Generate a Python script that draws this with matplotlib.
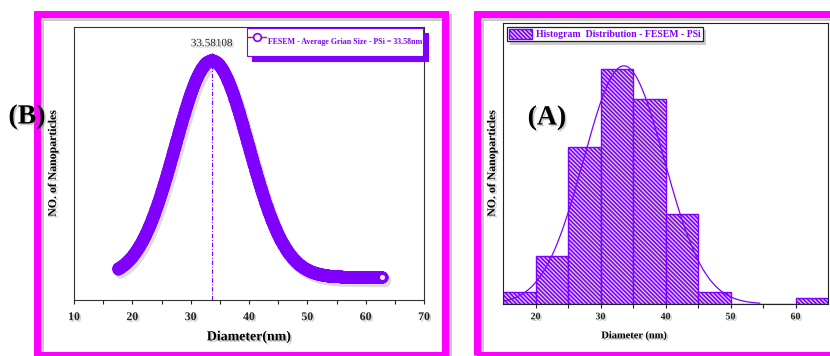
import numpy as np
import matplotlib
matplotlib.use("Agg")
import matplotlib.pyplot as plt
import matplotlib.patheffects as pe
from matplotlib.patches import Rectangle
from matplotlib.lines import Line2D
from matplotlib.transforms import offset_copy

# -----------------------------
# Gauss fit of FESEM grain size (panel B)
# -----------------------------
fit_center = 33.58108
fit_width = 6.3
fit_amp = 35.7
fit_base = 3.8
fit_range = (17.5, 62.8)

# -----------------------------
# Histogram of diameters (panel A)
# -----------------------------
bin_left = [15, 20, 25, 30, 35, 40, 45, 50, 55, 60]
bin_count = [2, 8, 26, 39, 34, 15, 2, 0, 0, 1]
bin_width = 5

# normal curve drawn over the histogram
hist_fit_center = 33.6
hist_fit_width = 6.2
hist_fit_amp = 39.5
hist_fit_range = (15, 54.5)

xticks_b = [10, 20, 30, 40, 50, 60, 70]
xticks_a = [20, 30, 40, 50, 60]

PURPLE = "#7F00FF"
MAGENTA = "#FF00FF"

plt.rcParams["font.family"] = ["Liberation Serif", "DejaVu Serif"]
plt.rcParams["font.weight"] = "bold"
plt.rcParams["hatch.linewidth"] = 1.2

W, H = 830, 356
fig = plt.figure(figsize=(W / 100, H / 100), dpi=100)


def box(x0, y0, x1, y1):
    # pixel box (top-left origin) -> figure fraction rect
    return [x0 / W, 1 - y1 / H, (x1 - x0) / W, (y1 - y0) / H]


txt_shadow = [pe.withSimplePatchShadow(offset=(1.2, -1.2), shadow_rgbFace="0.45", alpha=0.35)]

# -----------------------------
# Outer magenta frames
# -----------------------------
for x0, x1 in [(36.5, 444.5), (476.5, 840)]:
    r = Rectangle((x0 / W, 1 - 355 / H), (x1 - x0) / W, (355 - 13.5) / H,
                  transform=fig.transFigure, fill=False, ec=MAGENTA, lw=5.04,
                  joinstyle="miter", clip_on=False, zorder=1)
    r.set_path_effects([pe.SimpleLineShadow(offset=(2.2, -2.2), shadow_color="0.4", alpha=0.35),
                        pe.Normal()])
    fig.add_artist(r)

# -----------------------------
# Panel B: Gauss fit curve
# -----------------------------
axL = fig.add_axes(box(74, 27, 424, 300))

x = np.linspace(fit_range[0], fit_range[1], 1500)
y = fit_base + fit_amp * np.exp(-(x - fit_center) ** 2 / (2 * fit_width ** 2))

shadow_tr = offset_copy(axL.transData, fig=fig, x=3, y=-4, units="dots")
axL.plot(x, y, color="0.55", lw=9, alpha=0.3, solid_capstyle="round", transform=shadow_tr)
axL.plot(x, y, color="red", lw=1, marker="o", ms=6.1, mew=2.5, mfc="white", mec=PURPLE, zorder=3)

peak = fit_base + fit_amp
axL.plot([fit_center, fit_center], [0, peak + 1.3], color=PURPLE, lw=0.8,
         dashes=(4, 1.5, 1, 1.5), zorder=2)
axL.annotate(f"{fit_center:.5f}", xy=(fit_center, peak), xytext=(0, 12),
             textcoords="offset points", ha="center", va="center",
             fontsize=8, fontweight="normal", color="#222222", path_effects=txt_shadow)

axL.set_xlim(10, 70)
axL.set_ylim(0, 45)
axL.set_xticks(xticks_b)
axL.set_xticks([15, 25, 35, 45, 55, 65], minor=True)
axL.set_yticks([])
axL.tick_params(axis="x", which="both", direction="out", length=3, width=0.8, pad=5,
                labelsize=8.5, colors="#222222")
for s in axL.spines.values():
    s.set_color("#333333")
    s.set_linewidth(0.8)

axL.set_xlabel("Diameter(nm)", fontsize=10, fontweight="bold", va="top")
axL.xaxis.set_label_coords(0.5, -0.11)
axL.set_ylabel("NO. of Nanoparticles", fontsize=8.5, fontweight="bold")
axL.yaxis.set_label_coords(-0.043, 0.5)

proxy = Line2D([], [], color="red", lw=1, marker="o", ms=5.5, mfc="white", mec=PURPLE, mew=1.2)
legL = axL.legend(handles=[proxy], labels=[f"FESEM - Average Grian Size - PSi = {fit_center:.2f}nm"],
                  loc="upper left", bbox_to_anchor=(247 / W, 1 - 28 / H),
                  bbox_transform=fig.transFigure, borderaxespad=0,
                  prop=dict(weight="bold", size=5.7), handlelength=2.2, handleheight=4.6,
                  handletextpad=0.25, borderpad=0.15, fancybox=False, edgecolor=PURPLE,
                  framealpha=1,
                  shadow={"ox": 3.6, "oy": -3.6, "facecolor": PURPLE, "edgecolor": PURPLE, "alpha": 1})
legL.get_frame().set_linewidth(0.8)
for t in legL.get_texts():
    t.set_color(PURPLE)

# -----------------------------
# Panel A: histogram
# -----------------------------
axR = fig.add_axes(box(503, 23, 828, 304))

axR.bar(bin_left, bin_count, width=bin_width, align="edge", facecolor="#DCD4F4",
        edgecolor=PURPLE, hatch="\\" * 8, lw=1, zorder=2,
        label="Histogram  Distribution - FESEM - PSi")

xr = np.linspace(hist_fit_range[0], hist_fit_range[1], 400)
yr = hist_fit_amp * np.exp(-(xr - hist_fit_center) ** 2 / (2 * hist_fit_width ** 2))
axR.plot(xr, yr, color=PURPLE, lw=0.9, zorder=3)

axR.set_xlim(15, 65)
axR.set_ylim(0, 46.6)
axR.set_xticks(xticks_a)
axR.set_xticks([25, 35, 45, 55], minor=True)
axR.set_yticks([])
axR.tick_params(axis="x", which="both", direction="out", length=3, width=0.8, pad=3,
                labelsize=7.2, colors="#222222")
for s in axR.spines.values():
    s.set_color("#222222")
    s.set_linewidth(0.8)

axR.set_xlabel("Diameter (nm)", fontsize=7.5, fontweight="bold", va="top")
axR.xaxis.set_label_coords(0.403, -0.096)
axR.set_ylabel("NO. of Nanoparticles", fontsize=8.5, fontweight="bold")
axR.yaxis.set_label_coords(-0.015, 0.5)

legR = axR.legend(loc="upper left", bbox_to_anchor=(507 / W, 1 - 27 / H),
                  bbox_transform=fig.transFigure, borderaxespad=0,
                  prop=dict(weight="bold", size=7), handlelength=2.4, handleheight=1.2,
                  handletextpad=0.4, borderpad=0.2, fancybox=False, edgecolor="#222222",
                  framealpha=1,
                  shadow={"ox": 2.5, "oy": -2.5, "facecolor": "0.5", "edgecolor": "none", "alpha": 0.4})
legR.get_frame().set_linewidth(0.9)
for t in legR.get_texts():
    t.set_color(PURPLE)

# panel letters
fig.text(27 / W, 1 - 117 / H, "(B)", fontsize=20, fontweight="bold", ha="center", va="center",
         zorder=5, path_effects=txt_shadow)
fig.text(547 / W, 1 - 118 / H, "(A)", fontsize=20, fontweight="bold", ha="center", va="center",
         zorder=5, path_effects=txt_shadow)

# soft shadow on axis texts
for ax in (axL, axR):
    for t in ax.get_xticklabels() + [ax.xaxis.label, ax.yaxis.label]:
        t.set_path_effects(txt_shadow)

fig.savefig("out.png", dpi=100, facecolor="white")
